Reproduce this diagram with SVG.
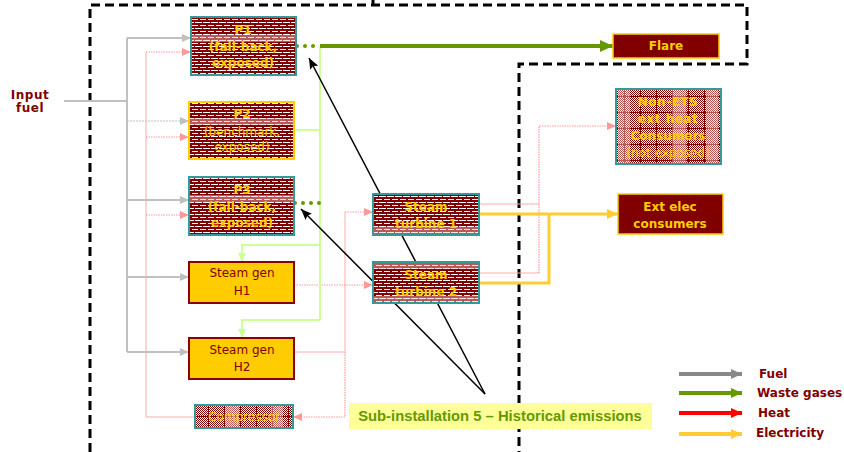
<svg xmlns="http://www.w3.org/2000/svg" width="844" height="452" viewBox="0 0 844 452">
<style>
.nt{font-family:"DejaVu Sans",Verdana,sans-serif;font-size:12px;text-anchor:middle;dominant-baseline:central}
.gold{fill:#FFCC00;font-weight:bold}
.goldn{fill:#FFCC00}
.dr{fill:#800000}
.lg{font-family:"DejaVu Sans",Verdana,sans-serif;font-size:12px;font-weight:bold;fill:#800000;dominant-baseline:central}
.fuel{stroke:#C0C0C0;stroke-width:2;fill:none}
.fueld{stroke:#C0C0C0;stroke-width:1;fill:none;stroke-dasharray:2,1}
.heat{stroke:#FFAAAA;stroke-width:1;fill:none}
.heatd{stroke:#FF9999;stroke-width:1.2;fill:none;stroke-dasharray:1.5,1}
.elec{stroke:#FFCC33;stroke-width:3;fill:none}
.waste{stroke:#669900;stroke-width:4;fill:none}
.wlt{stroke:#CCFF99;stroke-width:2;fill:none}
.ptr{stroke:#000;stroke-width:1.5;fill:none}
.band{fill:#FFC8C8;opacity:0.45}
</style>
<defs>
<pattern id="brick" patternUnits="userSpaceOnUse" width="8" height="6">
<rect width="8" height="6" fill="#800000"/>
<rect x="0" y="1" width="6" height="1" fill="#FFFFFF"/>
<rect x="3" y="4" width="5" height="1" fill="#FFFFFF"/>
<rect x="0" y="4" width="2" height="1" fill="#FFFFFF"/>
</pattern>
<pattern id="checker" patternUnits="userSpaceOnUse" width="2" height="2">
<rect width="2" height="2" fill="#FFFFFF"/>
<rect width="1" height="1" fill="#800000"/>
<rect x="1" y="1" width="1" height="1" fill="#800000"/>
</pattern>
<pattern id="cgrid" patternUnits="userSpaceOnUse" width="16" height="16">
<rect width="16" height="16" fill="url(#checker)"/>
<rect x="0" y="0" width="1" height="16" fill="#800000"/>
<rect x="0" y="0" width="16" height="1" fill="#800000"/>
</pattern>
<marker id="aGray" markerUnits="userSpaceOnUse" markerWidth="10" markerHeight="10" refX="9" refY="5" orient="auto"><path d="M0,1 L9,5 L0,9z" fill="#BFBFBF"/></marker>
<marker id="aPink" markerUnits="userSpaceOnUse" markerWidth="10" markerHeight="10" refX="9" refY="5" orient="auto"><path d="M0,1 L9,5 L0,9z" fill="#FF9999"/></marker>
<marker id="aGreen" markerUnits="userSpaceOnUse" markerWidth="14" markerHeight="14" refX="13" refY="7" orient="auto"><path d="M0,1 L13,7 L0,13z" fill="#669900"/></marker>
<marker id="aGold" markerUnits="userSpaceOnUse" markerWidth="12" markerHeight="12" refX="11" refY="6" orient="auto"><path d="M0,1 L11,6 L0,11z" fill="#FFCC33"/></marker>
<marker id="aLt" markerUnits="userSpaceOnUse" markerWidth="10" markerHeight="10" refX="9" refY="5" orient="auto"><path d="M0,1 L9,5 L0,9z" fill="#CCFF99"/></marker>
<marker id="aBlk" markerUnits="userSpaceOnUse" markerWidth="12" markerHeight="10" refX="11" refY="5" orient="auto"><path d="M0,0.5 L11,5 L0,9.5 L2,5z" fill="#000"/></marker>
<marker id="lGray" markerUnits="userSpaceOnUse" markerWidth="12" markerHeight="12" refX="11" refY="6" orient="auto"><path d="M0,1 L11,6 L0,11z" fill="#888888"/></marker>
<marker id="lGreen" markerUnits="userSpaceOnUse" markerWidth="12" markerHeight="12" refX="11" refY="6" orient="auto"><path d="M0,1 L11,6 L0,11z" fill="#669900"/></marker>
<marker id="lRed" markerUnits="userSpaceOnUse" markerWidth="12" markerHeight="12" refX="11" refY="6" orient="auto"><path d="M0,1 L11,6 L0,11z" fill="#FF0000"/></marker>
<marker id="lGold" markerUnits="userSpaceOnUse" markerWidth="12" markerHeight="12" refX="11" refY="6" orient="auto"><path d="M0,1 L11,6 L0,11z" fill="#FFCC33"/></marker>
</defs>
<rect width="844" height="452" fill="#FFFFFF"/>

<g id="boundary" fill="none" stroke="#000" stroke-width="3">
<path d="M90,452 V5 H747 V64 H519 V452" stroke-dasharray="9,5"/>
<path d="M373,0 V4"/>
</g>

<g id="connectors">
<path class="fuel" d="M64,101 H127"/>
<path class="fuel" d="M127,38 V352"/>
<path class="fuel" d="M127,38 H191" marker-end="url(#aGray)"/>
<path class="fueld" d="M127,121 H189" marker-end="url(#aGray)"/>
<path class="fuel" d="M127,200 H189" marker-end="url(#aGray)"/>
<path class="fuel" d="M127,277 H189" marker-end="url(#aGray)"/>
<path class="fuel" d="M127,352 H189" marker-end="url(#aGray)"/>
<path class="heat" d="M146,52 V417 H195"/>
<path class="heatd" d="M146,52 H191" marker-end="url(#aPink)"/>
<path class="heatd" d="M146,137 H189" marker-end="url(#aPink)"/>
<path class="heatd" d="M146,215 H189" marker-end="url(#aPink)"/>
<path class="heat" d="M294,352 H345 V212"/>
<path class="heatd" d="M345,212 H373" marker-end="url(#aPink)"/>
<path class="heatd" d="M345,352 V417 H293" marker-end="url(#aPink)"/>
<path class="heatd" d="M294,285 H373" marker-end="url(#aPink)"/>
<path class="heat" d="M479,204 H539"/>
<path class="heat" d="M479,273 H539"/>
<path class="heatd" d="M539,273 V126 H616" marker-end="url(#aPink)"/>
<path class="elec" d="M479,214 H618" marker-end="url(#aGold)"/>
<path class="elec" d="M479,283 H549 V214"/>
<path class="wlt" d="M320,46 V320"/>
<path class="wlt" d="M294,130 H320"/>
<path class="wlt" d="M320,245 H242 V262" marker-end="url(#aLt)"/>
<path class="wlt" d="M320,320 H242 V338" marker-end="url(#aLt)"/>
<path class="waste" d="M320,46 H613" marker-end="url(#aGreen)"/>
<g fill="#669900">
<circle cx="297" cy="46" r="2"/><circle cx="305" cy="46" r="2"/><circle cx="313" cy="46" r="2"/>
<circle cx="295" cy="203" r="2"/><circle cx="303" cy="203" r="2"/><circle cx="311" cy="203" r="2"/><circle cx="319" cy="203" r="2"/>
</g>
<path class="ptr" d="M485,394 L309,58" marker-end="url(#aBlk)"/>
<path class="ptr" d="M485,394 L301,209" marker-end="url(#aBlk)"/>
</g>

<g id="input-fuel">
<text class="lg" x="30" y="95" text-anchor="middle" letter-spacing="0.5">Input</text>
<text class="lg" x="30" y="108" text-anchor="middle" letter-spacing="0.5">fuel</text>
</g>

<g id="p1">
<rect x="191" y="17" width="105" height="58" fill="url(#brick)" stroke="#339999" stroke-width="2"/>
<rect class="band" x="192" y="35" width="103" height="7"/>
<text class="nt gold" x="243" y="30">P1</text>
<text class="nt gold" x="243" y="47">(fall-back,</text>
<text class="nt gold" x="243" y="63">exposed)</text>
</g>

<g id="p2">
<rect x="189" y="102" width="105" height="57" fill="url(#brick)" stroke="#FFCC00" stroke-width="2"/>
<rect class="band" x="190" y="118" width="103" height="7"/>
<text class="nt gold" x="242" y="114">P2</text>
<text class="nt goldn" x="242" y="132">(benchmark,</text>
<text class="nt goldn" x="242" y="147">exposed)</text>
</g>

<g id="p3">
<rect x="189" y="177" width="105" height="58" fill="url(#brick)" stroke="#339999" stroke-width="2"/>
<rect class="band" x="190" y="195" width="103" height="7"/>
<text class="nt gold" x="242" y="190">P3</text>
<text class="nt gold" x="242" y="207">(fall-back,</text>
<text class="nt gold" x="242" y="223">exposed)</text>
</g>

<g id="steam-gen-h1">
<rect x="189" y="262" width="105" height="41" fill="#FFCC00" stroke="#8B0000" stroke-width="2"/>
<text class="nt dr" x="242" y="273">Steam gen</text>
<text class="nt dr" x="242" y="291">H1</text>
</g>

<g id="steam-gen-h2">
<rect x="189" y="338" width="105" height="41" fill="#FFCC00" stroke="#8B0000" stroke-width="2"/>
<text class="nt dr" x="242" y="350">Steam gen</text>
<text class="nt dr" x="242" y="367">H2</text>
</g>

<g id="compressor">
<rect x="195" y="405" width="98" height="23" fill="url(#cgrid)" stroke="#339999" stroke-width="2"/>
<rect class="band" x="225" y="406" width="14" height="21"/>
<rect class="band" x="271" y="406" width="12" height="21"/>
<text class="nt goldn" x="244" y="417">Compressor</text>
</g>

<g id="steam-turbine-1">
<rect x="373" y="194" width="106" height="41" fill="url(#brick)" stroke="#339999" stroke-width="2"/>
<rect class="band" x="374" y="227" width="104" height="7"/>
<text class="nt gold" x="426" y="207">Steam</text>
<text class="nt gold" x="426" y="224">turbine 1</text>
</g>

<g id="steam-turbine-2">
<rect x="373" y="262" width="106" height="41" fill="url(#brick)" stroke="#339999" stroke-width="2"/>
<rect class="band" x="374" y="263" width="104" height="6"/>
<rect class="band" x="374" y="296" width="104" height="6"/>
<text class="nt gold" x="426" y="275">Steam</text>
<text class="nt gold" x="426" y="292">turbine 2</text>
</g>

<g id="flare">
<rect x="613" y="34" width="106" height="24" fill="#800000" stroke="#FFCC00" stroke-width="1.5"/>
<text class="nt gold" x="666" y="46">Flare</text>
</g>

<g id="non-ets">
<rect x="616" y="89" width="105" height="75" fill="url(#cgrid)" stroke="#339999" stroke-width="2"/>
<rect class="band" x="618" y="90" width="12" height="73"/>
<rect class="band" x="672" y="90" width="14" height="73"/>
<rect class="band" x="706" y="90" width="12" height="73"/>
<text class="nt gold" x="668" y="102" letter-spacing="0.5">Non-ETS</text>
<text class="nt gold" x="668" y="119" letter-spacing="0.5">ext heat</text>
<text class="nt gold" x="668" y="136">Consumers</text>
<text class="nt goldn" x="668" y="153" font-size="11">(not exposed)</text>
</g>

<g id="ext-elec">
<rect x="618" y="194" width="105" height="40" fill="#800000" stroke="#FFCC00" stroke-width="1.5"/>
<text class="nt gold" x="670" y="207">Ext elec</text>
<text class="nt gold" x="670" y="224">consumers</text>
</g>

<g id="sub-installation-label">
<rect x="349" y="403" width="303" height="26" fill="#FFFF99"/>
<text x="500" y="416" font-family="'Liberation Sans',Arial,sans-serif" font-size="14.8" font-weight="bold" fill="#669900" text-anchor="middle" dominant-baseline="central">Sub-installation 5 – Historical emissions</text>
</g>

<g id="legend">
<path d="M679,374 H742" stroke="#888888" stroke-width="4" marker-end="url(#lGray)"/>
<path d="M679,393 H742" stroke="#669900" stroke-width="4" marker-end="url(#lGreen)"/>
<path d="M679,413 H742" stroke="#FF0000" stroke-width="4" marker-end="url(#lRed)"/>
<path d="M679,434 H742" stroke="#FFCC33" stroke-width="4" marker-end="url(#lGold)"/>
<text class="lg" x="759" y="374">Fuel</text>
<text class="lg" x="757" y="393">Waste gases</text>
<text class="lg" x="758" y="413">Heat</text>
<text class="lg" x="756" y="433">Electricity</text>
</g>
</svg>
